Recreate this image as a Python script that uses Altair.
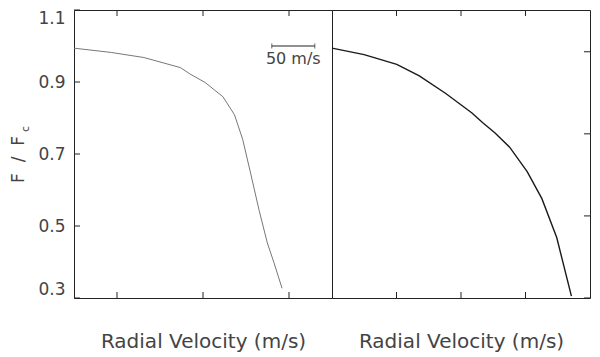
import altair as alt
import pandas as pd

# ---------------- data ----------------
left_v = [-150, -106.5, -68.7, -26.3, -14.9, 2.3, 23.2, 36.6, 46.1, 55.8, 65.3, 74.8, 82.4, 91.9]
left_f = [0.994, 0.982, 0.968, 0.940, 0.922, 0.899, 0.859, 0.809, 0.741, 0.642, 0.543, 0.453, 0.399, 0.327]

right_v = [-100, -75.1, -49.8, -32.3, -11.8, 8.5, 17.1, 26.2, 37.7, 51.3, 62.7, 74.2, 85.6]
right_f = [0.994, 0.976, 0.949, 0.917, 0.868, 0.814, 0.786, 0.759, 0.719, 0.651, 0.576, 0.468, 0.305]

left_xdomain = [-150, 150]
right_xdomain = [-100, 100]
ydomain = [0.3, 1.1]

left_xticks = [-100, 0, 100]
right_xticks = [-50, 0, 50]
left_yticks = [0.3, 0.5, 0.7, 0.9, 1.1]
right_yticks = [0.3, 0.528, 0.756, 0.984]

bar_v = [80, 130]
bar_f = [1.0, 1.0]
bar_label = ["50 m/s"]
bar_label_v = [105]
bar_label_f = [0.9635]

xtitle = "Radial Velocity (m/s)"
ytitle_main = "F\u00a0\u00a0/\u00a0\u00a0F"
ytitle_sub = "c"

# ---------------- style ----------------
W, H = 258, 288
TICK = 6
ink = "#222222"
txt = "#444444"
font = "DejaVu Sans"

xl = alt.Scale(domain=left_xdomain, nice=False, zero=False)
xr = alt.Scale(domain=right_xdomain, nice=False, zero=False)
ys = alt.Scale(domain=ydomain, nice=False, zero=False)

x_axis = alt.Axis(labels=False, ticks=False, domain=False, grid=False,
                  title=xtitle, titleFontSize=20, titleFont=font, titleColor=txt,
                  titleFontWeight="normal", titlePadding=33)
y_axis = alt.Axis(values=left_yticks, format=".1f", ticks=False, domain=False, grid=False,
                  labelFontSize=17, labelFont=font, labelColor=txt, labelPadding=9,
                  labelFlush=True,
                  title=ytitle_main, titleFontSize=17, titleFont=font, titleColor=txt,
                  titleFontWeight="normal", titleAngle=270, titleAlign="center",
                  titleBaseline="alphabetic", titleX=-51, titleY=149)

left_df = pd.DataFrame({"v": left_v, "f": left_f})
right_df = pd.DataFrame({"v": right_v, "f": right_f})

# ---------------- left panel ----------------
l_line = alt.Chart(left_df).mark_line(color="#777777", strokeWidth=1).encode(
    x=alt.X("v:Q", scale=xl, axis=x_axis),
    y=alt.Y("f:Q", scale=ys, axis=y_axis),
)
lxt = pd.DataFrame({"v": left_xticks})
l_top = alt.Chart(lxt).mark_rule(color=ink, strokeWidth=1).encode(
    x=alt.X("v:Q", scale=xl), y=alt.value(0), y2=alt.value(TICK))
l_bot = alt.Chart(lxt).mark_rule(color=ink, strokeWidth=1).encode(
    x=alt.X("v:Q", scale=xl), y=alt.value(H), y2=alt.value(H - TICK))
lyt = pd.DataFrame({"f": left_yticks})
l_yt = alt.Chart(lyt).mark_rule(color=ink, strokeWidth=1).encode(
    y=alt.Y("f:Q", scale=ys), x=alt.value(0), x2=alt.value(TICK))

bar_df = pd.DataFrame({"v": bar_v, "f": bar_f})
bar = alt.Chart(bar_df).mark_line(color=ink, strokeWidth=1).encode(
    x=alt.X("v:Q", scale=xl), y=alt.Y("f:Q", scale=ys))
caps = alt.Chart(bar_df).mark_tick(color=ink, thickness=1, size=5, orient="vertical").encode(
    x=alt.X("v:Q", scale=xl), y=alt.Y("f:Q", scale=ys))
lab_df = pd.DataFrame({"v": bar_label_v, "f": bar_label_f, "t": bar_label})
lab = alt.Chart(lab_df).mark_text(font=font, fontSize=16, color=txt, align="center",
                                  baseline="middle").encode(
    x=alt.X("v:Q", scale=xl), y=alt.Y("f:Q", scale=ys), text="t:N")

yt_sub = alt.Chart(pd.DataFrame({"t": [ytitle_sub]})).mark_text(
    font=font, fontSize=11, color=txt, angle=270, align="center", baseline="alphabetic").encode(
    x=alt.value(-45), y=alt.value(119), text="t:N")

left = alt.layer(l_line, l_top, l_bot, l_yt, bar, caps, lab, yt_sub).properties(width=W, height=H)

# ---------------- right panel ----------------
r_line = alt.Chart(right_df).mark_line(color="#1a1a1a", strokeWidth=1.4).encode(
    x=alt.X("v:Q", scale=xr, axis=x_axis),
    y=alt.Y("f:Q", scale=ys, axis=None),
)
rxt = pd.DataFrame({"v": right_xticks})
r_top = alt.Chart(rxt).mark_rule(color=ink, strokeWidth=1).encode(
    x=alt.X("v:Q", scale=xr), y=alt.value(0), y2=alt.value(TICK))
r_bot = alt.Chart(rxt).mark_rule(color=ink, strokeWidth=1).encode(
    x=alt.X("v:Q", scale=xr), y=alt.value(H), y2=alt.value(H - TICK))
ryt = pd.DataFrame({"f": right_yticks})
r_yt = alt.Chart(ryt).mark_rule(color=ink, strokeWidth=1).encode(
    y=alt.Y("f:Q", scale=ys, axis=None), x=alt.value(W), x2=alt.value(W - TICK))

right = alt.layer(r_line, r_top, r_bot, r_yt).properties(width=W, height=H)

chart = alt.hconcat(left, right, spacing=0, bounds="flush").resolve_scale(
    x="independent", y="independent").properties(
    padding=0, background="white").configure_view(stroke=ink, strokeWidth=1)

chart.save("out.html", embed_options={"renderer": "svg", "actions": False})
